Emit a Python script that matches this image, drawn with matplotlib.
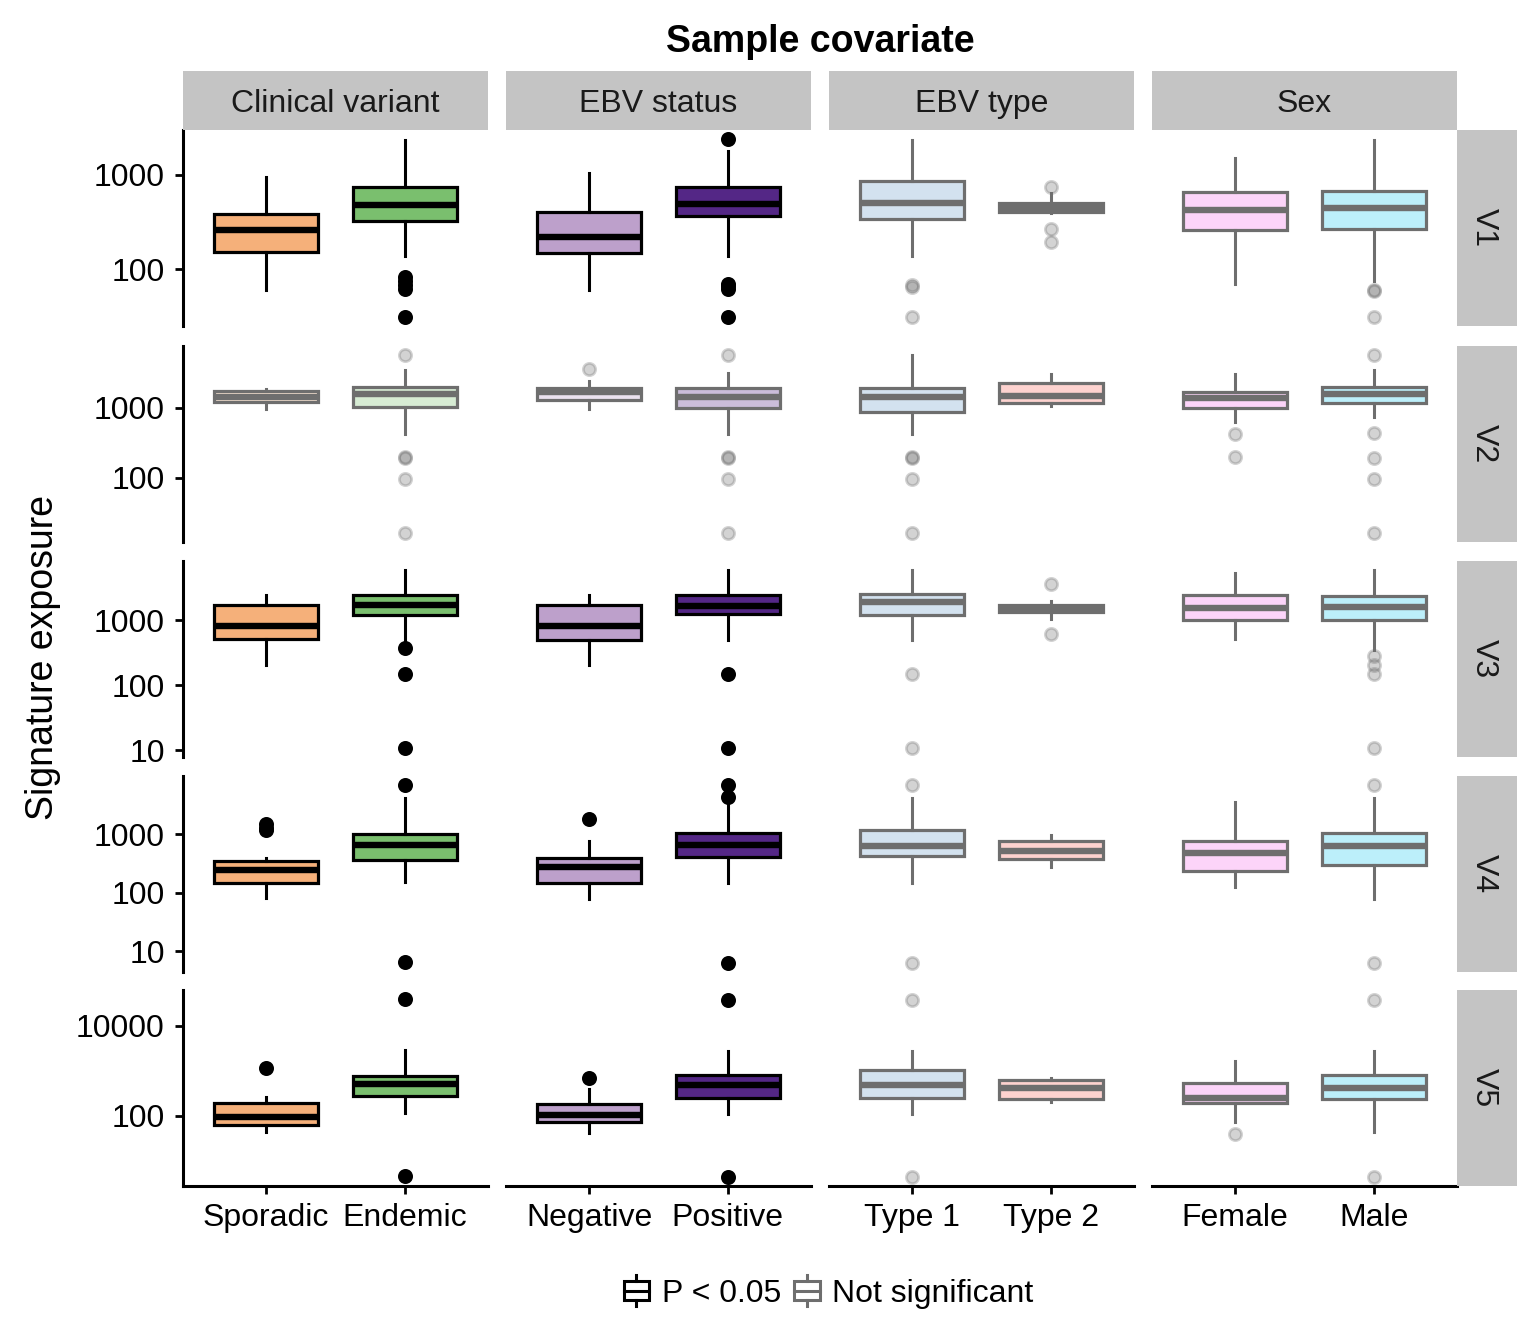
import matplotlib
matplotlib.use("Agg")
import matplotlib.pyplot as plt
import numpy as np
from matplotlib.colors import to_rgba
from matplotlib.patches import Rectangle, Patch
from matplotlib.lines import Line2D
from matplotlib.legend_handler import HandlerBase
from matplotlib.ticker import NullLocator

plt.rcParams['font.family'] = ['Liberation Sans', 'DejaVu Sans']

facets = ["Clinical variant", "EBV status", "EBV type", "Sex"]
levels = ["Sporadic", "Endemic", "Negative", "Positive", "Type 1", "Type 2", "Female", "Male"]
signatures = ["V1", "V2", "V3", "V4", "V5"]
level_colors = ["#F5B07A", "#7ABF6E", "#BDA0CB", "#542786",
                "#70A2CA", "#F96A63", "#F873EE", "#21CAF0"]

# P < 0.05 per signature (rows) and covariate (columns)
significant = [
    [True, True, False, False],
    [False, False, False, False],
    [True, True, False, False],
    [True, True, False, False],
    [True, True, False, False],
]

# boxplot stats, rows = signatures, columns = levels
whislo = [
    [60, 137, 60, 137, 137, 395, 70, 75],
    [977, 430, 967, 425, 425, 1068, 631, 744],
    [208, 476, 203, 492, 492, 1036, 510, 345],
    [82, 154, 79, 148, 148, 279, 126, 79],
    [44.5, 116, 42, 110, 110, 198, 74, 44.5],
]
q1 = [
    [151, 320, 147, 361, 336, 398, 258, 264],
    [1218, 1033, 1300, 1000, 877, 1179, 1000, 1179],
    [510, 1194, 492, 1237, 1207, 1329, 1000, 1000],
    [148, 362, 148, 407, 427, 377, 236, 303],
    [63.4, 275, 74, 249, 249, 236, 193, 236],
]
med = [
    [258, 483, 217, 495, 507, 449, 418, 449],
    [1413, 1600, 1690, 1436, 1436, 1483, 1389, 1585],
    [809, 1700, 809, 1660, 1894, 1530, 1556, 1585],
    [245, 651, 276, 657, 636, 521, 477, 626],
    [95, 505, 105, 480, 480, 418, 249, 418],
]
q3 = [
    [388, 748, 398, 748, 865, 507, 662, 679],
    [1720, 1995, 1930, 1930, 1930, 2275, 1693, 1995],
    [1700, 2424, 1701, 2424, 2547, 1701, 2424, 2340],
    [349, 1000, 392, 1040, 1170, 761, 761, 1040],
    [193, 757, 184, 796, 1050, 618, 532, 796],
]
whishi = [
    [955, 2336, 1050, 1790, 2336, 646, 1510, 2336],
    [1887, 3490, 2430, 3162, 5715, 3060, 3060, 3490],
    [2490, 5880, 2424, 5980, 5880, 1960, 5280, 5880],
    [392, 4236, 773, 3700, 4236, 962, 3620, 4236],
    [262, 2823, 402, 2800, 2800, 684, 1620, 2800],
]
fliers = [
    [[], [82, 75, 68, 62, 31], [], [2394, 70, 66, 61, 31], [68, 64, 31],
     [748, 264, 192], [], [60, 59, 31]],
    [[], [5715, 200, 190, 97, 16.3], [3600], [5715, 200, 190, 97, 16.3],
     [200, 190, 97, 16.3], [], [425, 200], [5715, 440, 193, 97, 16.3]],
    [[], [380, 151, 10.8], [], [151, 10.8], [151, 10.8], [3580, 609], [],
     [280, 203, 151, 10.8]],
    [[1480, 1300, 1170], [7030, 6.5], [1870], [6900, 4400, 6.3], [6900, 6.3],
     [], [], [6900, 6.3]],
    [[1135], [39000, 4.6], [684], [36000, 4.4], [36000, 4.4], [], [40],
     [36000, 4.4]],
]
yticks = [[100, 1000], [100, 1000], [10, 100, 1000], [10, 100, 1000], [100, 10000]]

W, H = 1536, 1344
fig = plt.figure(figsize=(W / 200, H / 200), dpi=200)
col_x = [183, 506, 829, 1152]
row_y = [130, 346, 561, 776, 990]
pw, ph = 305, 196
strip_grey = "#C4C4C4"
ns_grey = "#6E6E6E"
fs = 11.5


def frac(x, y, w, h):
    return [x / W, 1 - (y + h) / H, w / W, h / H]


for r in range(len(signatures)):
    vals = whislo[r] + whishi[r] + sum(fliers[r], [])
    lo, hi = np.log10(min(vals)), np.log10(max(vals))
    pad = 0.05 * (hi - lo)
    ylim = (10 ** (lo - pad), 10 ** (hi + pad))
    for c in range(len(facets)):
        sig = significant[r][c]
        ec = "black" if sig else ns_grey
        ax = fig.add_axes(frac(col_x[c], row_y[r], pw, ph))
        ax.set_yscale("log")
        stats = []
        for k in range(2):
            i = 2 * c + k
            stats.append(dict(whislo=whislo[r][i], q1=q1[r][i], med=med[r][i],
                              q3=q3[r][i], whishi=whishi[r][i], fliers=fliers[r][i]))
        res = ax.bxp(stats, positions=[1, 2], widths=0.75, patch_artist=True,
                     showcaps=False,
                     boxprops=dict(edgecolor=ec, linewidth=1.15),
                     whiskerprops=dict(color=ec, linewidth=1.1),
                     medianprops=dict(color=ec, linewidth=2.3),
                     flierprops=dict(marker="o", markerfacecolor=ec, markeredgecolor=ec,
                                     markersize=4.4, alpha=1 if sig else 0.3,
                                     linestyle="none"))
        for k, box in enumerate(res["boxes"]):
            box.set_facecolor(to_rgba(level_colors[2 * c + k], 1 if sig else 0.3))
        ax.set_xlim(0.4, 2.6)
        ax.set_ylim(*ylim)
        ax.yaxis.set_minor_locator(NullLocator())
        ax.set_yticks(yticks[r])
        ax.set_yticklabels([str(t) for t in yticks[r]])
        ax.set_xticks([1, 2])
        ax.set_xticklabels(levels[2 * c:2 * c + 2])
        ax.tick_params(axis="both", length=3, width=1.0, labelsize=fs, colors="black")
        ax.tick_params(axis="y", pad=3.6)
        ax.tick_params(axis="x", pad=3)
        for s in ["top", "right"]:
            ax.spines[s].set_visible(False)
        ax.spines["left"].set_linewidth(1.1)
        ax.spines["bottom"].set_linewidth(1.1)
        if c > 0:
            ax.spines["left"].set_visible(False)
            ax.tick_params(axis="y", left=False, labelleft=False)
        if r < len(signatures) - 1:
            ax.spines["bottom"].set_visible(False)
            ax.tick_params(axis="x", bottom=False, labelbottom=False)
        ax.set_facecolor("none")

        if r == 0:
            sx = fig.add_axes(frac(col_x[c], 71, pw, 59))
            sx.set_facecolor(strip_grey)
            sx.set_xticks([])
            sx.set_yticks([])
            for s in sx.spines.values():
                s.set_visible(False)
            sx.text(0.5, 0.5, facets[c], ha="center", va="center_baseline", fontsize=fs,
                    color="#1A1A1A", transform=sx.transAxes)
    sy = fig.add_axes(frac(1457, row_y[r], 60, ph))
    sy.set_facecolor(strip_grey)
    sy.set_xticks([])
    sy.set_yticks([])
    for s in sy.spines.values():
        s.set_visible(False)
    sy.text(0.45, 0.5, signatures[r], ha="center", va="center", fontsize=fs,
            rotation=-90, color="#1A1A1A", transform=sy.transAxes)

fig.text(820 / W, 1 - 38 / H, "Sample covariate", ha="center", va="center_baseline",
         fontsize=13.5, fontweight="bold")
fig.text(43 / W, 1 - 658 / H, "Signature exposure", ha="center", va="center",
         fontsize=13.5, rotation=90)


class BoxHandler(HandlerBase):
    def create_artists(self, legend, orig_handle, xdescent, ydescent, width, height,
                       fontsize, trans):
        col = orig_handle.get_edgecolor()
        x0, y0 = -xdescent, -ydescent
        h0 = y0 - 0.2 * height
        hh = 1.4 * height
        rect = Rectangle((x0 + 0.1 * width, h0 + 0.2 * hh), 0.8 * width, 0.6 * hh,
                         fc="white", ec=col, lw=1.1, transform=trans)
        mid = Line2D([x0 + 0.1 * width, x0 + 0.9 * width], [h0 + 0.5 * hh] * 2,
                     color=col, lw=1.1, transform=trans)
        wt = Line2D([x0 + 0.5 * width] * 2, [h0 + 0.8 * hh, h0 + hh], color=col,
                    lw=1.1, transform=trans)
        wb = Line2D([x0 + 0.5 * width] * 2, [h0, h0 + 0.2 * hh], color=col,
                    lw=1.1, transform=trans)
        return [rect, mid, wt, wb]


handles = [Patch(edgecolor="black", facecolor="white"),
           Patch(edgecolor=ns_grey, facecolor="white")]
fig.legend(handles, ["P < 0.05", "Not significant"], loc="center",
           bbox_to_anchor=(827 / W, 1 - 1294 / H), ncol=2, frameon=False,
           fontsize=fs, handler_map={Patch: BoxHandler()}, handlelength=1.0,
           handletextpad=0.3, columnspacing=0.3)

fig.savefig("out.png", dpi=200)
